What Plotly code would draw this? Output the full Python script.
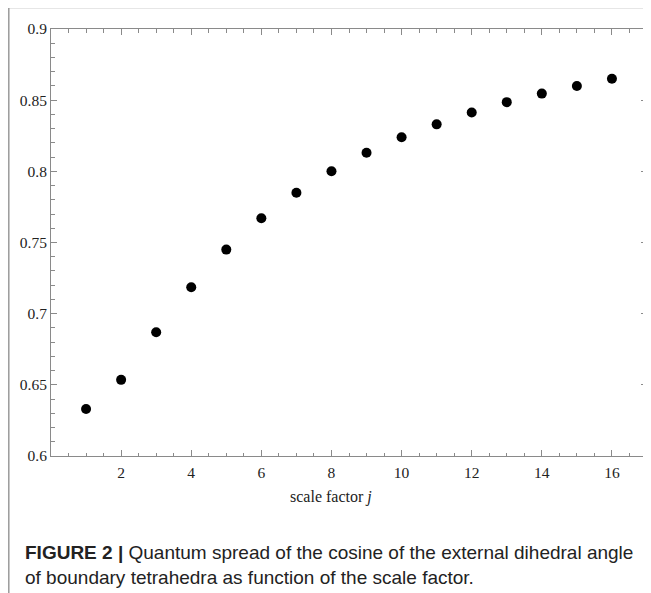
import plotly.graph_objects as go

j_values = list(range(1, 17))
spread_values = [0.633, 0.6535, 0.687, 0.7185, 0.745, 0.767, 0.785, 0.800,
                 0.813, 0.824, 0.833, 0.8413, 0.8486, 0.8546, 0.860, 0.865]
x_tick_vals = [2, 4, 6, 8, 10, 12, 14, 16]
y_tick_vals = [0.6, 0.65, 0.7, 0.75, 0.8, 0.85, 0.9]
y_tick_text = ["0.6", "0.65", "0.7", "0.75", "0.8", "0.85", "0.9"]
x_title = "scale factor <i>j</i>"
caption_1 = "<b>FIGURE 2 |</b> Quantum spread of the cosine of the external dihedral angle"
caption_2 = "of boundary tetrahedra as function of the scale factor."

OFF = 8  # page body margin
W, H = 651 - OFF, 593 - OFF
L, R, T, B = 51 - OFF, 647 - OFF, 29 - OFF, 456 - OFF
pw, ph = R - L, B - T

def px(x):
    return (x - OFF - L) / pw

def py(y):
    return (B - (y - OFF)) / ph

fig = go.Figure()
fig.add_trace(go.Scatter(
    x=j_values, y=spread_values, mode="markers",
    marker=dict(color="black", size=10, line=dict(width=0)),
    showlegend=False, cliponaxis=False,
))

axis_color = "#8a8a8a"
tick_font = dict(family="Liberation Serif, Times New Roman, serif", size=15.5, color="#222")

fig.update_xaxes(
    range=[0, 17], tickvals=x_tick_vals, ticks="inside", ticklen=6, tickwidth=1,
    tickcolor=axis_color, showline=True, linecolor=axis_color, linewidth=1,
    mirror="ticks", showgrid=False, zeroline=False, tickfont=tick_font,
    ticklabelstandoff=2,
    minor=dict(ticks="inside", dtick=0.5, tick0=0, ticklen=3.5, tickcolor=axis_color, showgrid=False),
)
fig.update_yaxes(
    range=[0.6, 0.9], tickvals=y_tick_vals, ticktext=y_tick_text, ticks="inside",
    ticklen=6, tickwidth=1, tickcolor=axis_color, showline=True, linecolor=axis_color,
    linewidth=1, mirror="ticks", showgrid=False, zeroline=False, tickfont=tick_font,
    minor=dict(ticks="inside", dtick=0.01, tick0=0.6, ticklen=3.5, tickcolor=axis_color, showgrid=False),
)

frame_color = "#9a9a9a"
fig.add_shape(type="line", xref="paper", yref="paper",
              x0=px(8.8), y0=py(7.5), x1=px(660), y1=py(7.5),
              line=dict(color=frame_color, width=1.5))
fig.add_shape(type="line", xref="paper", yref="paper",
              x0=px(8.8), y0=py(7.5), x1=px(8.8), y1=py(600),
              line=dict(color=frame_color, width=1.5))

fig.add_annotation(text=x_title, xref="paper", yref="paper", x=px(331), y=py(497),
                   xanchor="center", yanchor="middle", showarrow=False,
                   font=dict(family="Liberation Serif, Times New Roman, serif", size=16, color="#222"))
cap_font = dict(family="Liberation Sans, Arial, sans-serif", size=19, color="#222")
fig.add_annotation(text=caption_1, xref="paper", yref="paper", x=px(23), y=py(552),
                   xanchor="left", yanchor="middle", showarrow=False, font=cap_font)
fig.add_annotation(text=caption_2, xref="paper", yref="paper", x=px(23), y=py(577),
                   xanchor="left", yanchor="middle", showarrow=False, font=cap_font)

fig.update_layout(
    width=W, height=H, autosize=False,
    margin=dict(l=L, r=W - R, t=T, b=H - B),
    paper_bgcolor="white", plot_bgcolor="white",
)
fig.write_html("out.html")
